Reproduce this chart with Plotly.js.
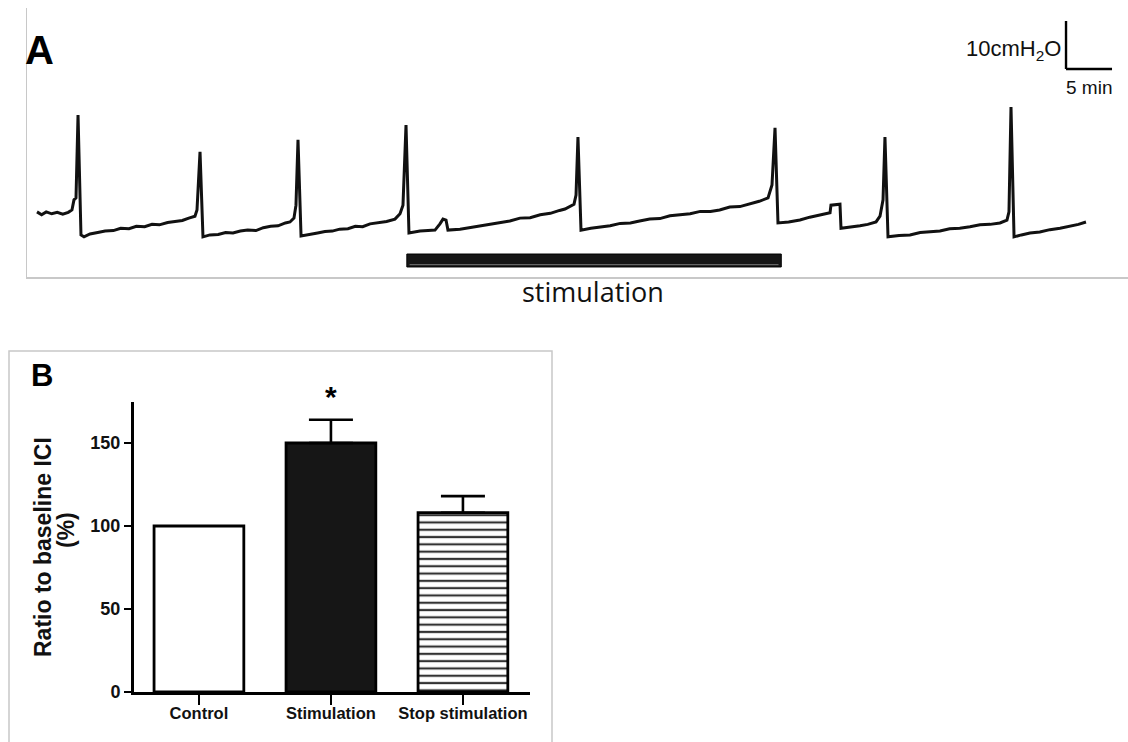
<!DOCTYPE html>
<html>
<head>
<meta charset="utf-8">
<script src="https://cdn.plot.ly/plotly-3.0.1.min.js"></script>
<style>html,body{margin:0;padding:0;background:#fff;}#chart{width:1128px;height:742px;}</style>
</head>
<body>
<div id="chart"></div>
<script>
// ---------- Panel A: bladder pressure trace (time in min, pressure in cmH2O) ----------
const timeMin = [
  0.00,0.50,1.00,1.60,2.20,2.80,3.40,3.80,4.02,4.24,4.46,4.78,
  5.11,5.76,6.60,7.40,8.30,9.10,10.00,10.80,11.70,12.50,13.30,14.20,15.00,15.80,16.50,17.17,17.39,17.72,
  18.04,18.80,19.70,20.50,21.30,22.10,22.90,23.80,24.60,25.40,26.20,27.00,27.50,27.93,28.15,28.37,
  28.70,29.67,30.50,31.30,32.10,32.90,33.80,34.60,35.40,36.20,37.10,38.00,38.91,39.46,39.78,40.11,
  40.43,41.63,42.50,43.26,43.80,44.13,44.46,44.67,45.98,47.00,48.00,49.10,50.30,51.40,52.50,53.60,54.70,55.80,56.80,57.39,58.37,58.59,58.80,
  59.13,60.20,61.20,62.30,63.40,64.50,65.50,66.60,67.70,68.80,69.90,71.00,72.10,73.20,74.20,75.30,76.40,77.50,78.50,79.46,79.89,80.22,
  80.54,81.70,82.93,84.00,85.11,86.20,86.30,87.28,87.39,88.40,89.46,90.30,91.20,91.63,91.96,92.17,
  92.50,93.70,94.89,96.00,97.10,98.15,99.20,100.30,101.41,102.50,103.60,104.67,105.43,105.65,105.87,
  106.20,107.00,107.93,109.00,110.10,111.20,112.30,113.20,114.02
];
const pressure = [
  6.9,6.3,6.9,6.5,6.8,6.4,6.8,7.3,9.4,9.8,27.1,2.1,
  1.7,2.3,2.6,2.9,3.0,3.5,3.4,3.9,3.8,4.3,4.2,4.7,4.9,5.1,5.6,6.0,7.3,19.4,
  1.7,2.1,2.2,2.6,2.5,2.9,3.1,3.0,3.6,3.9,4.0,4.6,4.8,5.6,8.3,21.9,
  1.9,2.3,2.5,2.8,2.9,3.3,3.4,3.9,3.8,4.4,4.6,4.9,5.4,6.5,8.3,25.0,
  2.5,2.9,3.0,3.1,4.4,5.4,5.2,3.1,3.3,3.6,3.9,4.3,4.7,5.0,5.6,5.7,6.3,6.6,7.2,7.5,8.5,10.4,22.5,
  3.1,3.5,3.8,4.0,4.5,4.6,5.0,5.4,5.5,6.1,6.3,6.5,7.0,7.0,7.3,7.9,8.0,8.5,9.1,9.8,12.5,24.4,
  4.6,4.8,5.2,5.8,6.3,6.7,8.3,8.5,3.5,3.7,4.0,4.3,4.8,6.0,9.4,22.5,
  1.7,2.0,2.1,2.6,2.7,2.9,3.4,3.5,3.8,4.2,4.3,4.6,5.2,6.9,28.75,
  1.7,2.1,2.5,2.7,3.2,3.5,3.9,4.3,4.8
];
const stimStart = 40.2, stimEnd = 80.9;          // min
const scaleBarMin = 5, scaleBarPressure = 10;     // 5 min, 10 cmH2O
const scaleBarT = 111.85, scaleBarP = 36.67;

// ---------- Panel B: ratio to baseline ICI (%) ----------
const groups = ['Control', 'Stimulation', 'Stop stimulation'];
const ratioMean = [100, 150, 108];
const ratioSem = [0, 14, 10];
const yTicks = [0, 50, 100, 150];

const W = 1128, H = 742;
const px = x => x / W;
const py = y => 1 - y / H;

const arial = 'Liberation Sans, Arial, sans-serif';

const barStyles = [
  {color: '#ffffff', pattern: null},
  {color: '#161616', pattern: null},
  {color: '#ffffff', pattern: {shape: '-', size: 7.3, solidity: 0.3, fgcolor: '#333333', fgopacity: 1,
                               bgcolor: '#ffffff', fillmode: 'overlay'}}
];

const traces = [
  {
    x: timeMin, y: pressure, type: 'scatter', mode: 'lines',
    line: {color: '#111', width: 3}, xaxis: 'x', yaxis: 'y', hoverinfo: 'skip'
  }
];
groups.forEach((g, i) => {
  const marker = {color: barStyles[i].color, line: {color: '#000', width: 2.8}};
  if (barStyles[i].pattern) marker.pattern = barStyles[i].pattern;
  const t = {x: [g], y: [ratioMean[i]], type: 'bar', xaxis: 'x2', yaxis: 'y2', width: 0.68, marker: marker};
  if (ratioSem[i] > 0) {
    t.error_y = {type: 'data', symmetric: false, array: [ratioSem[i]], arrayminus: [0],
                 color: '#000', thickness: 2.6, width: 22, visible: true};
  }
  traces.push(t);
});

const layout = {
  width: W, height: H, margin: {l: 0, r: 0, t: 0, b: 0},
  paper_bgcolor: '#fff', plot_bgcolor: 'rgba(0,0,0,0)', showlegend: false, barmode: 'overlay',
  xaxis: {domain: [px(27), 1], range: [-1.087, 118.587], showline: true, linecolor: '#c8c8c8', linewidth: 1.5,
          showgrid: false, zeroline: false, showticklabels: false, ticks: '', anchor: 'y', fixedrange: true},
  yaxis: {domain: [py(277), py(8)], range: [-6.667, 49.375], showline: true, linecolor: '#c8c8c8', linewidth: 1.5,
          showgrid: false, zeroline: false, showticklabels: false, ticks: '', anchor: 'x', fixedrange: true},
  xaxis2: {domain: [px(134), px(530)], type: 'category', categoryorder: 'array', categoryarray: groups,
           range: [-0.492, 2.508], anchor: 'y2',
           showline: true, linecolor: '#000', linewidth: 3, showgrid: false, zeroline: false,
           ticks: 'outside', ticklen: 10, tickwidth: 2.6, tickcolor: '#000', ticklabelstandoff: -6,
           tickfont: {family: arial, size: 16.5, color: '#111', weight: 'bold'}},
  yaxis2: {domain: [py(692), py(402)], range: [0, 174.7], anchor: 'x2',
           showline: true, linecolor: '#000', linewidth: 3, showgrid: false, zeroline: false,
           tickvals: yTicks, ticks: 'outside', ticklen: 7, tickwidth: 2.6, tickcolor: '#000',
           tickfont: {family: arial, size: 18, color: '#111', weight: 'bold'}},
  shapes: [
    {type: 'rect', xref: 'x', yref: 'y', x0: stimStart, x1: stimEnd, y0: -4.58, y1: -1.88,
     fillcolor: '#161616', line: {color: '#000', width: 1}},
    {type: 'line', xref: 'x', yref: 'y', x0: stimStart + 0.3, x1: stimEnd - 0.3, y0: -4.1, y1: -4.1,
     line: {color: '#777', width: 1}},
    {type: 'line', xref: 'x', yref: 'y', x0: scaleBarT, x1: scaleBarT, y0: scaleBarP, y1: scaleBarP + scaleBarPressure,
     line: {color: '#000', width: 2.4}},
    {type: 'line', xref: 'x', yref: 'y', x0: scaleBarT, x1: scaleBarT + scaleBarMin, y0: scaleBarP, y1: scaleBarP,
     line: {color: '#000', width: 2.4}},
    {type: 'rect', xref: 'paper', yref: 'paper', x0: px(9), x1: px(552), y0: -0.05, y1: py(351),
     line: {color: '#c8c8c8', width: 1.5}, fillcolor: 'rgba(0,0,0,0)'}
  ],
  annotations: [
    {text: '<b>A</b>', xref: 'paper', yref: 'paper', x: px(39), y: py(50), showarrow: false,
     font: {family: arial, size: 40, color: '#000'}, xanchor: 'center', yanchor: 'middle'},
    {text: '<b>B</b>', xref: 'paper', yref: 'paper', x: px(42), y: py(376), showarrow: false,
     font: {family: arial, size: 31, color: '#000'}, xanchor: 'center', yanchor: 'middle'},
    {text: 'stimulation', xref: 'paper', yref: 'paper', x: px(593), y: py(291), showarrow: false,
     font: {family: 'Open Sans, sans-serif', size: 27, color: '#111'}, xanchor: 'center', yanchor: 'middle'},
    {text: '10cmH<sub>2</sub>O', xref: 'paper', yref: 'paper', x: px(1063), y: py(50), showarrow: false,
     font: {family: arial, size: 22, color: '#111'}, xanchor: 'right', yanchor: 'middle'},
    {text: '5 min', xref: 'paper', yref: 'paper', x: px(1064), y: py(88), showarrow: false,
     font: {family: arial, size: 19, color: '#111'}, xanchor: 'left', yanchor: 'middle'},
    {text: '<b>*</b>', xref: 'x2', yref: 'paper', x: 'Stimulation', y: py(397), showarrow: false,
     font: {family: arial, size: 30, color: '#000'}, xanchor: 'center', yanchor: 'middle'},
    {text: '<b>Ratio to baseline ICI</b>', xref: 'paper', yref: 'paper', x: px(43), y: py(547), showarrow: false,
     textangle: -90, font: {family: arial, size: 23, color: '#111'}, xanchor: 'center', yanchor: 'middle'},
    {text: '<b>(%)</b>', xref: 'paper', yref: 'paper', x: px(66), y: py(530), showarrow: false,
     textangle: -90, font: {family: arial, size: 23, color: '#111'}, xanchor: 'center', yanchor: 'middle'}
  ]
};

Plotly.newPlot('chart', traces, layout, {staticPlot: true, displayModeBar: false}).then(gd => {
  // condensed look of the panel B tick labels: taller glyphs at the same width
  gd.querySelectorAll('.xtick text, .ytick text').forEach(el => {
    if (!el.textContent) return;
    const w = el.getComputedTextLength();
    if (!w) return;
    const cur = parseFloat(el.style.fontSize) || 16;
    el.style.fontSize = (cur * 1.17).toFixed(1) + 'px';
    el.setAttribute('textLength', w.toFixed(1));
    el.setAttribute('lengthAdjust', 'spacingAndGlyphs');
  });
});
</script>
</body>
</html>
